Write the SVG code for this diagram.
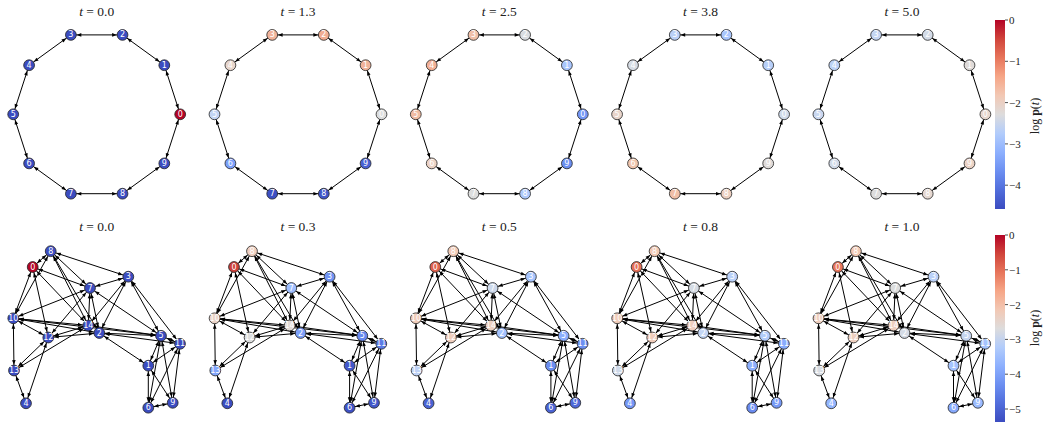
<svg xmlns="http://www.w3.org/2000/svg" xmlns:xlink="http://www.w3.org/1999/xlink" width="1045" height="423" viewBox="0 0 1045 423">
<style>
.title{font-family:"Liberation Serif",serif;font-size:13.5px;fill:#222;text-anchor:middle}
.lbl{font-family:"DejaVu Sans",sans-serif;font-size:8px;fill:#fff;text-anchor:middle;dominant-baseline:central}
circle.n{stroke:#222;stroke-width:0.8}
.e line{stroke:#000;stroke-width:1;marker-start:url(#ah);marker-end:url(#ah)}
.tick{stroke:#222;stroke-width:0.8}
.tl{font-family:"Liberation Serif",serif;font-size:11px;fill:#222;dominant-baseline:central}
.cl{font-family:"Liberation Serif",serif;font-size:12px;fill:#222;text-anchor:middle}
</style>
<defs>
<marker id="ah" markerUnits="userSpaceOnUse" markerWidth="10" markerHeight="6" viewBox="0 0 10 6" refX="10.4" refY="3" orient="auto-start-reverse" overflow="visible"><path d="M0,1.2 L4.6,3 L0,4.8 z" fill="#000"/></marker>
<linearGradient id="cw" x1="0" y1="1" x2="0" y2="0">
<stop offset="0" stop-color="#3b4cc0"/><stop offset="0.1" stop-color="#516ddb"/><stop offset="0.2" stop-color="#6c8ff1"/><stop offset="0.3" stop-color="#8db0fe"/><stop offset="0.4" stop-color="#b2ccfb"/><stop offset="0.5" stop-color="#dddcdc"/><stop offset="0.6" stop-color="#f2c8b4"/><stop offset="0.7" stop-color="#f6a687"/><stop offset="0.8" stop-color="#e7755b"/><stop offset="0.9" stop-color="#d0443b"/><stop offset="1" stop-color="#b40426"/>
</linearGradient>
<g id="ringE" class="e">
<line x1="83.5" y1="0" x2="67.6" y2="-49.1"/>
<line x1="67.6" y1="-49.1" x2="25.8" y2="-79.4"/>
<line x1="25.8" y1="-79.4" x2="-25.8" y2="-79.4"/>
<line x1="-25.8" y1="-79.4" x2="-67.6" y2="-49.1"/>
<line x1="-67.6" y1="-49.1" x2="-83.5" y2="0"/>
<line x1="-83.5" y1="0" x2="-67.6" y2="49.1"/>
<line x1="-67.6" y1="49.1" x2="-25.8" y2="79.4"/>
<line x1="-25.8" y1="79.4" x2="25.8" y2="79.4"/>
<line x1="25.8" y1="79.4" x2="67.6" y2="49.1"/>
<line x1="67.6" y1="49.1" x2="83.5" y2="0"/>
</g>
<g id="graphE" class="e">
<line x1="32.7" y1="267" x2="50.7" y2="251.2"/>
<line x1="50.7" y1="251.2" x2="128.3" y2="276.7"/>
<line x1="50.7" y1="251.2" x2="90" y2="288"/>
<line x1="50.7" y1="251.2" x2="88.3" y2="325.5"/>
<line x1="50.7" y1="251.2" x2="99.3" y2="333"/>
<line x1="50.7" y1="251.2" x2="13.3" y2="318.3"/>
<line x1="32.7" y1="267" x2="90" y2="288"/>
<line x1="32.7" y1="267" x2="88.3" y2="325.5"/>
<line x1="32.7" y1="267" x2="48.3" y2="337.5"/>
<line x1="32.7" y1="267" x2="13.3" y2="318.3"/>
<line x1="13.3" y1="318.3" x2="90" y2="288"/>
<line x1="13.3" y1="318.3" x2="88.3" y2="325.5"/>
<line x1="13.3" y1="318.3" x2="99.3" y2="333"/>
<line x1="13.3" y1="318.3" x2="48.3" y2="337.5"/>
<line x1="13.3" y1="318.3" x2="14" y2="370.5"/>
<line x1="13.3" y1="318.3" x2="161" y2="335.8"/>
<line x1="90" y1="288" x2="128.3" y2="276.7"/>
<line x1="90" y1="288" x2="88.3" y2="325.5"/>
<line x1="90" y1="288" x2="99.3" y2="333"/>
<line x1="90" y1="288" x2="48.3" y2="337.5"/>
<line x1="90" y1="288" x2="161" y2="335.8"/>
<line x1="128.3" y1="276.7" x2="88.3" y2="325.5"/>
<line x1="128.3" y1="276.7" x2="99.3" y2="333"/>
<line x1="128.3" y1="276.7" x2="161" y2="335.8"/>
<line x1="128.3" y1="276.7" x2="180" y2="343.8"/>
<line x1="88.3" y1="325.5" x2="48.3" y2="337.5"/>
<line x1="88.3" y1="325.5" x2="14" y2="370.5"/>
<line x1="88.3" y1="325.5" x2="161" y2="335.8"/>
<line x1="99.3" y1="333" x2="48.3" y2="337.5"/>
<line x1="99.3" y1="333" x2="161" y2="335.8"/>
<line x1="99.3" y1="333" x2="180" y2="343.8"/>
<line x1="99.3" y1="333" x2="148.3" y2="365.7"/>
<line x1="48.3" y1="337.5" x2="14" y2="370.5"/>
<line x1="48.3" y1="337.5" x2="26" y2="403.3"/>
<line x1="14" y1="370.5" x2="26" y2="403.3"/>
<line x1="161" y1="335.8" x2="148.3" y2="365.7"/>
<line x1="161" y1="335.8" x2="148.3" y2="407.7"/>
<line x1="161" y1="335.8" x2="172.7" y2="402.8"/>
<line x1="161" y1="335.8" x2="180" y2="343.8"/>
<line x1="180" y1="343.8" x2="148.3" y2="365.7"/>
<line x1="180" y1="343.8" x2="148.3" y2="407.7"/>
<line x1="180" y1="343.8" x2="172.7" y2="402.8"/>
<line x1="148.3" y1="365.7" x2="148.3" y2="407.7"/>
<line x1="148.3" y1="365.7" x2="172.7" y2="402.8"/>
<line x1="148.3" y1="407.7" x2="172.7" y2="402.8"/>
</g>
</defs>

<g id="titles">
<text class="title" x="96.7" y="16"><tspan font-style="italic">t</tspan> = 0.0</text>
<text class="title" x="298" y="16"><tspan font-style="italic">t</tspan> = 1.3</text>
<text class="title" x="499.3" y="16"><tspan font-style="italic">t</tspan> = 2.5</text>
<text class="title" x="700.6" y="16"><tspan font-style="italic">t</tspan> = 3.8</text>
<text class="title" x="901.9" y="16"><tspan font-style="italic">t</tspan> = 5.0</text>
<text class="title" x="96.7" y="231"><tspan font-style="italic">t</tspan> = 0.0</text>
<text class="title" x="298" y="231"><tspan font-style="italic">t</tspan> = 0.3</text>
<text class="title" x="499.3" y="231"><tspan font-style="italic">t</tspan> = 0.5</text>
<text class="title" x="700.6" y="231"><tspan font-style="italic">t</tspan> = 0.8</text>
<text class="title" x="901.9" y="231"><tspan font-style="italic">t</tspan> = 1.0</text>
</g>

<g id="connectors">
<use xlink:href="#ringE" href="#ringE" transform="translate(96.7,114.3)"/>
<use xlink:href="#ringE" href="#ringE" transform="translate(298,114.3)"/>
<use xlink:href="#ringE" href="#ringE" transform="translate(499.3,114.3)"/>
<use xlink:href="#ringE" href="#ringE" transform="translate(700.6,114.3)"/>
<use xlink:href="#ringE" href="#ringE" transform="translate(901.9,114.3)"/>
<use xlink:href="#graphE" href="#graphE"/>
<use xlink:href="#graphE" href="#graphE" transform="translate(201.3,0)"/>
<use xlink:href="#graphE" href="#graphE" transform="translate(402.6,0)"/>
<use xlink:href="#graphE" href="#graphE" transform="translate(603.9,0)"/>
<use xlink:href="#graphE" href="#graphE" transform="translate(805.2,0)"/>
</g>

<!-- Top row ring panels -->
<g id="ring-t0" transform="translate(96.7,114.3)">
<g id="r0-n0"><circle class="n" cx="83.5" cy="0" r="5.4" fill="#b40426"/><text class="lbl" x="83.5" y="0">0</text></g>
<g id="r0-n1"><circle class="n" cx="67.6" cy="-49.1" r="5.4" fill="#3b4cc0"/><text class="lbl" x="67.6" y="-49.1">1</text></g>
<g id="r0-n2"><circle class="n" cx="25.8" cy="-79.4" r="5.4" fill="#3b4cc0"/><text class="lbl" x="25.8" y="-79.4">2</text></g>
<g id="r0-n3"><circle class="n" cx="-25.8" cy="-79.4" r="5.4" fill="#3b4cc0"/><text class="lbl" x="-25.8" y="-79.4">3</text></g>
<g id="r0-n4"><circle class="n" cx="-67.6" cy="-49.1" r="5.4" fill="#3b4cc0"/><text class="lbl" x="-67.6" y="-49.1">4</text></g>
<g id="r0-n5"><circle class="n" cx="-83.5" cy="0" r="5.4" fill="#3b4cc0"/><text class="lbl" x="-83.5" y="0">5</text></g>
<g id="r0-n6"><circle class="n" cx="-67.6" cy="49.1" r="5.4" fill="#3b4cc0"/><text class="lbl" x="-67.6" y="49.1">6</text></g>
<g id="r0-n7"><circle class="n" cx="-25.8" cy="79.4" r="5.4" fill="#3b4cc0"/><text class="lbl" x="-25.8" y="79.4">7</text></g>
<g id="r0-n8"><circle class="n" cx="25.8" cy="79.4" r="5.4" fill="#3b4cc0"/><text class="lbl" x="25.8" y="79.4">8</text></g>
<g id="r0-n9"><circle class="n" cx="67.6" cy="49.1" r="5.4" fill="#3b4cc0"/><text class="lbl" x="67.6" y="49.1">9</text></g>
</g>
<g id="ring-t1" transform="translate(298,114.3)">
<g id="r1-n0"><circle class="n" cx="83.5" cy="0" r="5.4" fill="#dcdddd"/><text class="lbl" x="83.5" y="0">0</text></g>
<g id="r1-n1"><circle class="n" cx="67.6" cy="-49.1" r="5.4" fill="#f1b39a"/><text class="lbl" x="67.6" y="-49.1">1</text></g>
<g id="r1-n2"><circle class="n" cx="25.8" cy="-79.4" r="5.4" fill="#f0ad92"/><text class="lbl" x="25.8" y="-79.4">2</text></g>
<g id="r1-n3"><circle class="n" cx="-25.8" cy="-79.4" r="5.4" fill="#f1b39a"/><text class="lbl" x="-25.8" y="-79.4">3</text></g>
<g id="r1-n4"><circle class="n" cx="-67.6" cy="-49.1" r="5.4" fill="#e8d6cc"/><text class="lbl" x="-67.6" y="-49.1">4</text></g>
<g id="r1-n5"><circle class="n" cx="-83.5" cy="0" r="5.4" fill="#c3d5f4"/><text class="lbl" x="-83.5" y="0">5</text></g>
<g id="r1-n6"><circle class="n" cx="-67.6" cy="49.1" r="5.4" fill="#7b9ff9"/><text class="lbl" x="-67.6" y="49.1">6</text></g>
<g id="r1-n7"><circle class="n" cx="-25.8" cy="79.4" r="5.4" fill="#3d50c3"/><text class="lbl" x="-25.8" y="79.4">7</text></g>
<g id="r1-n8"><circle class="n" cx="25.8" cy="79.4" r="5.4" fill="#4055c8"/><text class="lbl" x="25.8" y="79.4">8</text></g>
<g id="r1-n9"><circle class="n" cx="67.6" cy="49.1" r="5.4" fill="#4961d2"/><text class="lbl" x="67.6" y="49.1">9</text></g>
</g>
<g id="ring-t2" transform="translate(499.3,114.3)">
<g id="r2-n0"><circle class="n" cx="83.5" cy="0" r="5.4" fill="#7396f5"/><text class="lbl" x="83.5" y="0">0</text></g>
<g id="r2-n1"><circle class="n" cx="67.6" cy="-49.1" r="5.4" fill="#a9c6fd"/><text class="lbl" x="67.6" y="-49.1">1</text></g>
<g id="r2-n2"><circle class="n" cx="25.8" cy="-79.4" r="5.4" fill="#d9dce1"/><text class="lbl" x="25.8" y="-79.4">2</text></g>
<g id="r2-n3"><circle class="n" cx="-25.8" cy="-79.4" r="5.4" fill="#f0c0a8"/><text class="lbl" x="-25.8" y="-79.4">3</text></g>
<g id="r2-n4"><circle class="n" cx="-67.6" cy="-49.1" r="5.4" fill="#f2b096"/><text class="lbl" x="-67.6" y="-49.1">4</text></g>
<g id="r2-n5"><circle class="n" cx="-83.5" cy="0" r="5.4" fill="#f0bca3"/><text class="lbl" x="-83.5" y="0">5</text></g>
<g id="r2-n6"><circle class="n" cx="-67.6" cy="49.1" r="5.4" fill="#ecd3c5"/><text class="lbl" x="-67.6" y="49.1">6</text></g>
<g id="r2-n7"><circle class="n" cx="-25.8" cy="79.4" r="5.4" fill="#dcdddd"/><text class="lbl" x="-25.8" y="79.4">7</text></g>
<g id="r2-n8"><circle class="n" cx="25.8" cy="79.4" r="5.4" fill="#aec9fc"/><text class="lbl" x="25.8" y="79.4">8</text></g>
<g id="r2-n9"><circle class="n" cx="67.6" cy="49.1" r="5.4" fill="#6c8ff1"/><text class="lbl" x="67.6" y="49.1">9</text></g>
</g>
<g id="ring-t3" transform="translate(700.6,114.3)">
<g id="r3-n0"><circle class="n" cx="83.5" cy="0" r="5.4" fill="#cfdaea"/><text class="lbl" x="83.5" y="0">0</text></g>
<g id="r3-n1"><circle class="n" cx="67.6" cy="-49.1" r="5.4" fill="#b7cff9"/><text class="lbl" x="67.6" y="-49.1">1</text></g>
<g id="r3-n2"><circle class="n" cx="25.8" cy="-79.4" r="5.4" fill="#a9c6fd"/><text class="lbl" x="25.8" y="-79.4">2</text></g>
<g id="r3-n3"><circle class="n" cx="-25.8" cy="-79.4" r="5.4" fill="#bad0f8"/><text class="lbl" x="-25.8" y="-79.4">3</text></g>
<g id="r3-n4"><circle class="n" cx="-67.6" cy="-49.1" r="5.4" fill="#d6dce4"/><text class="lbl" x="-67.6" y="-49.1">4</text></g>
<g id="r3-n5"><circle class="n" cx="-83.5" cy="0" r="5.4" fill="#e9d5cb"/><text class="lbl" x="-83.5" y="0">5</text></g>
<g id="r3-n6"><circle class="n" cx="-67.6" cy="49.1" r="5.4" fill="#f0c5ad"/><text class="lbl" x="-67.6" y="49.1">6</text></g>
<g id="r3-n7"><circle class="n" cx="-25.8" cy="79.4" r="5.4" fill="#f0bfa7"/><text class="lbl" x="-25.8" y="79.4">7</text></g>
<g id="r3-n8"><circle class="n" cx="25.8" cy="79.4" r="5.4" fill="#eccfc0"/><text class="lbl" x="25.8" y="79.4">8</text></g>
<g id="r3-n9"><circle class="n" cx="67.6" cy="49.1" r="5.4" fill="#dfdbd9"/><text class="lbl" x="67.6" y="49.1">9</text></g>
</g>
<g id="ring-t4" transform="translate(901.9,114.3)">
<g id="r4-n0"><circle class="n" cx="83.5" cy="0" r="5.4" fill="#e7d7ce"/><text class="lbl" x="83.5" y="0">0</text></g>
<g id="r4-n1"><circle class="n" cx="67.6" cy="-49.1" r="5.4" fill="#dfdbd9"/><text class="lbl" x="67.6" y="-49.1">1</text></g>
<g id="r4-n2"><circle class="n" cx="25.8" cy="-79.4" r="5.4" fill="#d3dbe7"/><text class="lbl" x="25.8" y="-79.4">2</text></g>
<g id="r4-n3"><circle class="n" cx="-25.8" cy="-79.4" r="5.4" fill="#c5d6f2"/><text class="lbl" x="-25.8" y="-79.4">3</text></g>
<g id="r4-n4"><circle class="n" cx="-67.6" cy="-49.1" r="5.4" fill="#bcd2f7"/><text class="lbl" x="-67.6" y="-49.1">4</text></g>
<g id="r4-n5"><circle class="n" cx="-83.5" cy="0" r="5.4" fill="#c9d7f0"/><text class="lbl" x="-83.5" y="0">5</text></g>
<g id="r4-n6"><circle class="n" cx="-67.6" cy="49.1" r="5.4" fill="#d1dae9"/><text class="lbl" x="-67.6" y="49.1">6</text></g>
<g id="r4-n7"><circle class="n" cx="-25.8" cy="79.4" r="5.4" fill="#dddcdc"/><text class="lbl" x="-25.8" y="79.4">7</text></g>
<g id="r4-n8"><circle class="n" cx="25.8" cy="79.4" r="5.4" fill="#e5d8d1"/><text class="lbl" x="25.8" y="79.4">8</text></g>
<g id="r4-n9"><circle class="n" cx="67.6" cy="49.1" r="5.4" fill="#ebd3c6"/><text class="lbl" x="67.6" y="49.1">9</text></g>
</g>

<!-- Bottom row graph panels -->
<g id="graph-t0">
<g id="g0-n0"><circle class="n" cx="32.7" cy="267" r="5.4" fill="#b40426"/><text class="lbl" x="32.7" y="267">0</text></g>
<g id="g0-n1"><circle class="n" cx="148.3" cy="365.7" r="5.4" fill="#3b4cc0"/><text class="lbl" x="148.3" y="365.7">1</text></g>
<g id="g0-n2"><circle class="n" cx="99.3" cy="333" r="5.4" fill="#3b4cc0"/><text class="lbl" x="99.3" y="333">2</text></g>
<g id="g0-n3"><circle class="n" cx="128.3" cy="276.7" r="5.4" fill="#3b4cc0"/><text class="lbl" x="128.3" y="276.7">3</text></g>
<g id="g0-n4"><circle class="n" cx="26" cy="403.3" r="5.4" fill="#3b4cc0"/><text class="lbl" x="26" y="403.3">4</text></g>
<g id="g0-n5"><circle class="n" cx="161" cy="335.8" r="5.4" fill="#3b4cc0"/><text class="lbl" x="161" y="335.8">5</text></g>
<g id="g0-n6"><circle class="n" cx="148.3" cy="407.7" r="5.4" fill="#3b4cc0"/><text class="lbl" x="148.3" y="407.7">6</text></g>
<g id="g0-n7"><circle class="n" cx="90" cy="288" r="5.4" fill="#3b4cc0"/><text class="lbl" x="90" y="288">7</text></g>
<g id="g0-n8"><circle class="n" cx="50.7" cy="251.2" r="5.4" fill="#3b4cc0"/><text class="lbl" x="50.7" y="251.2">8</text></g>
<g id="g0-n9"><circle class="n" cx="172.7" cy="402.8" r="5.4" fill="#3b4cc0"/><text class="lbl" x="172.7" y="402.8">9</text></g>
<g id="g0-n10"><circle class="n" cx="13.3" cy="318.3" r="5.4" fill="#3b4cc0"/><text class="lbl" x="13.3" y="318.3">10</text></g>
<g id="g0-n11"><circle class="n" cx="180" cy="343.8" r="5.4" fill="#3b4cc0"/><text class="lbl" x="180" y="343.8">11</text></g>
<g id="g0-n12"><circle class="n" cx="48.3" cy="337.5" r="5.4" fill="#3b4cc0"/><text class="lbl" x="48.3" y="337.5">12</text></g>
<g id="g0-n13"><circle class="n" cx="14" cy="370.5" r="5.4" fill="#3b4cc0"/><text class="lbl" x="14" y="370.5">13</text></g>
<g id="g0-n14"><circle class="n" cx="88.3" cy="325.5" r="5.4" fill="#3b4cc0"/><text class="lbl" x="88.3" y="325.5">14</text></g>
</g>
<g id="graph-t1" transform="translate(201.3,0)">
<g id="g1-n0"><circle class="n" cx="32.7" cy="267" r="5.4" fill="#cc403a"/><text class="lbl" x="32.7" y="267">0</text></g>
<g id="g1-n1"><circle class="n" cx="148.3" cy="365.7" r="5.4" fill="#4358cb"/><text class="lbl" x="148.3" y="365.7">1</text></g>
<g id="g1-n2"><circle class="n" cx="99.3" cy="333" r="5.4" fill="#7da0f9"/><text class="lbl" x="99.3" y="333">2</text></g>
<g id="g1-n3"><circle class="n" cx="128.3" cy="276.7" r="5.4" fill="#7093f3"/><text class="lbl" x="128.3" y="276.7">3</text></g>
<g id="g1-n4"><circle class="n" cx="26" cy="403.3" r="5.4" fill="#3b4cc0"/><text class="lbl" x="26" y="403.3">4</text></g>
<g id="g1-n5"><circle class="n" cx="161" cy="335.8" r="5.4" fill="#6788ee"/><text class="lbl" x="161" y="335.8">5</text></g>
<g id="g1-n6"><circle class="n" cx="148.3" cy="407.7" r="5.4" fill="#3e51c5"/><text class="lbl" x="148.3" y="407.7">6</text></g>
<g id="g1-n7"><circle class="n" cx="90" cy="288" r="5.4" fill="#9ebeff"/><text class="lbl" x="90" y="288">7</text></g>
<g id="g1-n8"><circle class="n" cx="50.7" cy="251.2" r="5.4" fill="#efcfbf"/><text class="lbl" x="50.7" y="251.2">8</text></g>
<g id="g1-n9"><circle class="n" cx="172.7" cy="402.8" r="5.4" fill="#4257c9"/><text class="lbl" x="172.7" y="402.8">9</text></g>
<g id="g1-n10"><circle class="n" cx="13.3" cy="318.3" r="5.4" fill="#ead4c8"/><text class="lbl" x="13.3" y="318.3">10</text></g>
<g id="g1-n11"><circle class="n" cx="180" cy="343.8" r="5.4" fill="#5b7ae5"/><text class="lbl" x="180" y="343.8">11</text></g>
<g id="g1-n12"><circle class="n" cx="48.3" cy="337.5" r="5.4" fill="#dcdddd"/><text class="lbl" x="48.3" y="337.5">12</text></g>
<g id="g1-n13"><circle class="n" cx="14" cy="370.5" r="5.4" fill="#84a7fc"/><text class="lbl" x="14" y="370.5">13</text></g>
<g id="g1-n14"><circle class="n" cx="88.3" cy="325.5" r="5.4" fill="#e2dad5"/><text class="lbl" x="88.3" y="325.5">14</text></g>
</g>
<g id="graph-t2" transform="translate(402.6,0)">
<g id="g2-n0"><circle class="n" cx="32.7" cy="267" r="5.4" fill="#de614d"/><text class="lbl" x="32.7" y="267">0</text></g>
<g id="g2-n1"><circle class="n" cx="148.3" cy="365.7" r="5.4" fill="#6c8ff1"/><text class="lbl" x="148.3" y="365.7">1</text></g>
<g id="g2-n2"><circle class="n" cx="99.3" cy="333" r="5.4" fill="#a3c2fe"/><text class="lbl" x="99.3" y="333">2</text></g>
<g id="g2-n3"><circle class="n" cx="128.3" cy="276.7" r="5.4" fill="#a7c5fe"/><text class="lbl" x="128.3" y="276.7">3</text></g>
<g id="g2-n4"><circle class="n" cx="26" cy="403.3" r="5.4" fill="#4a63d3"/><text class="lbl" x="26" y="403.3">4</text></g>
<g id="g2-n5"><circle class="n" cx="161" cy="335.8" r="5.4" fill="#8badfd"/><text class="lbl" x="161" y="335.8">5</text></g>
<g id="g2-n6"><circle class="n" cx="148.3" cy="407.7" r="5.4" fill="#4a63d3"/><text class="lbl" x="148.3" y="407.7">6</text></g>
<g id="g2-n7"><circle class="n" cx="90" cy="288" r="5.4" fill="#cdd9ec"/><text class="lbl" x="90" y="288">7</text></g>
<g id="g2-n8"><circle class="n" cx="50.7" cy="251.2" r="5.4" fill="#f2cbb7"/><text class="lbl" x="50.7" y="251.2">8</text></g>
<g id="g2-n9"><circle class="n" cx="172.7" cy="402.8" r="5.4" fill="#4e68d8"/><text class="lbl" x="172.7" y="402.8">9</text></g>
<g id="g2-n10"><circle class="n" cx="13.3" cy="318.3" r="5.4" fill="#f0cdbb"/><text class="lbl" x="13.3" y="318.3">10</text></g>
<g id="g2-n11"><circle class="n" cx="180" cy="343.8" r="5.4" fill="#6e90f2"/><text class="lbl" x="180" y="343.8">11</text></g>
<g id="g2-n12"><circle class="n" cx="48.3" cy="337.5" r="5.4" fill="#efcebd"/><text class="lbl" x="48.3" y="337.5">12</text></g>
<g id="g2-n13"><circle class="n" cx="14" cy="370.5" r="5.4" fill="#bed2f6"/><text class="lbl" x="14" y="370.5">13</text></g>
<g id="g2-n14"><circle class="n" cx="88.3" cy="325.5" r="5.4" fill="#eed0c0"/><text class="lbl" x="88.3" y="325.5">14</text></g>
</g>
<g id="graph-t3" transform="translate(603.9,0)">
<g id="g3-n0"><circle class="n" cx="32.7" cy="267" r="5.4" fill="#e57058"/><text class="lbl" x="32.7" y="267">0</text></g>
<g id="g3-n1"><circle class="n" cx="148.3" cy="365.7" r="5.4" fill="#8db0fe"/><text class="lbl" x="148.3" y="365.7">1</text></g>
<g id="g3-n2"><circle class="n" cx="99.3" cy="333" r="5.4" fill="#c3d5f4"/><text class="lbl" x="99.3" y="333">2</text></g>
<g id="g3-n3"><circle class="n" cx="128.3" cy="276.7" r="5.4" fill="#b9d0f9"/><text class="lbl" x="128.3" y="276.7">3</text></g>
<g id="g3-n4"><circle class="n" cx="26" cy="403.3" r="5.4" fill="#7597f6"/><text class="lbl" x="26" y="403.3">4</text></g>
<g id="g3-n5"><circle class="n" cx="161" cy="335.8" r="5.4" fill="#b2ccfb"/><text class="lbl" x="161" y="335.8">5</text></g>
<g id="g3-n6"><circle class="n" cx="148.3" cy="407.7" r="5.4" fill="#6a8bef"/><text class="lbl" x="148.3" y="407.7">6</text></g>
<g id="g3-n7"><circle class="n" cx="90" cy="288" r="5.4" fill="#d6dce4"/><text class="lbl" x="90" y="288">7</text></g>
<g id="g3-n8"><circle class="n" cx="50.7" cy="251.2" r="5.4" fill="#f2c9b4"/><text class="lbl" x="50.7" y="251.2">8</text></g>
<g id="g3-n9"><circle class="n" cx="172.7" cy="402.8" r="5.4" fill="#7699f6"/><text class="lbl" x="172.7" y="402.8">9</text></g>
<g id="g3-n10"><circle class="n" cx="13.3" cy="318.3" r="5.4" fill="#f0cdbb"/><text class="lbl" x="13.3" y="318.3">10</text></g>
<g id="g3-n11"><circle class="n" cx="180" cy="343.8" r="5.4" fill="#89acfd"/><text class="lbl" x="180" y="343.8">11</text></g>
<g id="g3-n12"><circle class="n" cx="48.3" cy="337.5" r="5.4" fill="#f0cdbb"/><text class="lbl" x="48.3" y="337.5">12</text></g>
<g id="g3-n13"><circle class="n" cx="14" cy="370.5" r="5.4" fill="#cfdaea"/><text class="lbl" x="14" y="370.5">13</text></g>
<g id="g3-n14"><circle class="n" cx="88.3" cy="325.5" r="5.4" fill="#efcfbf"/><text class="lbl" x="88.3" y="325.5">14</text></g>
</g>
<g id="graph-t4" transform="translate(805.2,0)">
<g id="g4-n0"><circle class="n" cx="32.7" cy="267" r="5.4" fill="#e8765c"/><text class="lbl" x="32.7" y="267">0</text></g>
<g id="g4-n1"><circle class="n" cx="148.3" cy="365.7" r="5.4" fill="#a5c3fe"/><text class="lbl" x="148.3" y="365.7">1</text></g>
<g id="g4-n2"><circle class="n" cx="99.3" cy="333" r="5.4" fill="#d5dbe5"/><text class="lbl" x="99.3" y="333">2</text></g>
<g id="g4-n3"><circle class="n" cx="128.3" cy="276.7" r="5.4" fill="#bad0f8"/><text class="lbl" x="128.3" y="276.7">3</text></g>
<g id="g4-n4"><circle class="n" cx="26" cy="403.3" r="5.4" fill="#94b6ff"/><text class="lbl" x="26" y="403.3">4</text></g>
<g id="g4-n5"><circle class="n" cx="161" cy="335.8" r="5.4" fill="#c6d6f1"/><text class="lbl" x="161" y="335.8">5</text></g>
<g id="g4-n6"><circle class="n" cx="148.3" cy="407.7" r="5.4" fill="#86a9fc"/><text class="lbl" x="148.3" y="407.7">6</text></g>
<g id="g4-n7"><circle class="n" cx="90" cy="288" r="5.4" fill="#dcdddd"/><text class="lbl" x="90" y="288">7</text></g>
<g id="g4-n8"><circle class="n" cx="50.7" cy="251.2" r="5.4" fill="#f2c9b4"/><text class="lbl" x="50.7" y="251.2">8</text></g>
<g id="g4-n9"><circle class="n" cx="172.7" cy="402.8" r="5.4" fill="#9abbff"/><text class="lbl" x="172.7" y="402.8">9</text></g>
<g id="g4-n10"><circle class="n" cx="13.3" cy="318.3" r="5.4" fill="#efcfbf"/><text class="lbl" x="13.3" y="318.3">10</text></g>
<g id="g4-n11"><circle class="n" cx="180" cy="343.8" r="5.4" fill="#a6c4fe"/><text class="lbl" x="180" y="343.8">11</text></g>
<g id="g4-n12"><circle class="n" cx="48.3" cy="337.5" r="5.4" fill="#eed0c0"/><text class="lbl" x="48.3" y="337.5">12</text></g>
<g id="g4-n13"><circle class="n" cx="14" cy="370.5" r="5.4" fill="#d8dce2"/><text class="lbl" x="14" y="370.5">13</text></g>
<g id="g4-n14"><circle class="n" cx="88.3" cy="325.5" r="5.4" fill="#efcfbf"/><text class="lbl" x="88.3" y="325.5">14</text></g>
</g>

<!-- Colorbars -->
<g id="colorbar-top">
<rect x="995" y="20" width="10" height="189" fill="url(#cw)"/>
<line class="tick" x1="1005" y1="20" x2="1008" y2="20"/><text class="tl" x="1009" y="20">0</text>
<line class="tick" x1="1005" y1="61.3" x2="1008" y2="61.3"/><text class="tl" x="1009" y="61.3">−1</text>
<line class="tick" x1="1005" y1="102.6" x2="1008" y2="102.6"/><text class="tl" x="1009" y="102.6">−2</text>
<line class="tick" x1="1005" y1="143.9" x2="1008" y2="143.9"/><text class="tl" x="1009" y="143.9">−3</text>
<line class="tick" x1="1005" y1="185.2" x2="1008" y2="185.2"/><text class="tl" x="1009" y="185.2">−4</text>
<text class="cl" transform="translate(1039,116) rotate(-90)">log <tspan font-weight="bold">p</tspan>(<tspan font-style="italic">t</tspan>)</text>
</g>
<g id="colorbar-bottom">
<rect x="995" y="235" width="10" height="187" fill="url(#cw)"/>
<line class="tick" x1="1005" y1="235" x2="1008" y2="235"/><text class="tl" x="1009" y="235">0</text>
<line class="tick" x1="1005" y1="269.8" x2="1008" y2="269.8"/><text class="tl" x="1009" y="269.8">−1</text>
<line class="tick" x1="1005" y1="304.6" x2="1008" y2="304.6"/><text class="tl" x="1009" y="304.6">−2</text>
<line class="tick" x1="1005" y1="339.4" x2="1008" y2="339.4"/><text class="tl" x="1009" y="339.4">−3</text>
<line class="tick" x1="1005" y1="374.2" x2="1008" y2="374.2"/><text class="tl" x="1009" y="374.2">−4</text>
<line class="tick" x1="1005" y1="409" x2="1008" y2="409"/><text class="tl" x="1009" y="409">−5</text>
<text class="cl" transform="translate(1039,328) rotate(-90)">log <tspan font-weight="bold">p</tspan>(<tspan font-style="italic">t</tspan>)</text>
</g>
</svg>
